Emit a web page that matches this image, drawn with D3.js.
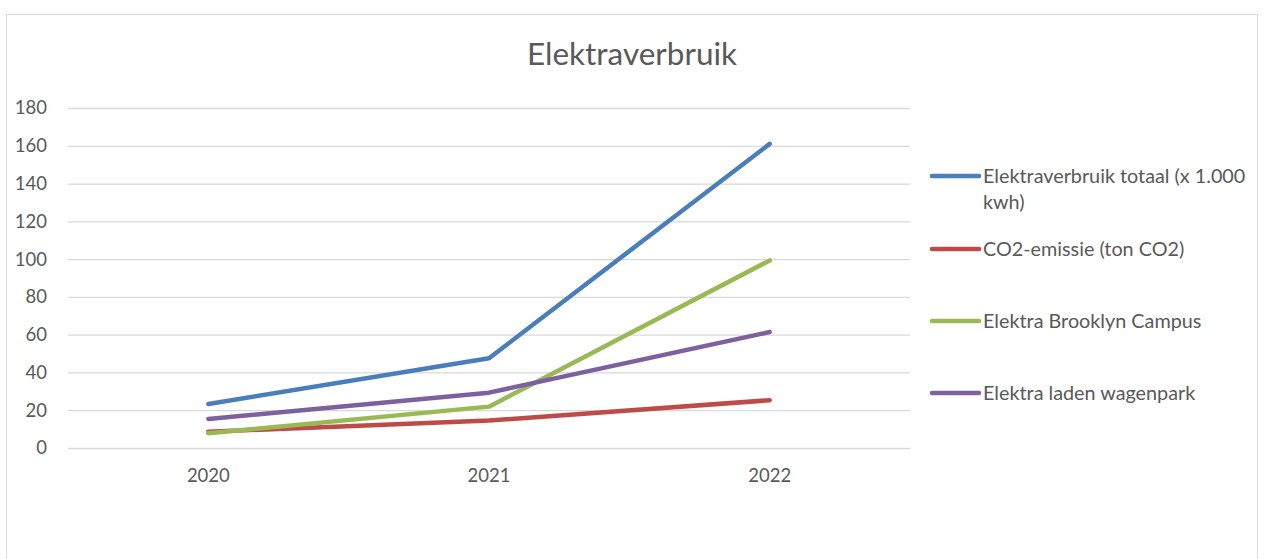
<!DOCTYPE html>
<html>
<head>
<meta charset="utf-8">
<script src="https://cdn.jsdelivr.net/npm/d3@7"></script>
<style>
  body { margin: 0; background: #fff; }
  svg { font-family: Lato, "Open Sans", sans-serif; }
</style>
</head>
<body>
<svg id="chart" width="1268" height="559"></svg>
<script>
var years = ["2020", "2021", "2022"];
var yTicks = [0, 20, 40, 60, 80, 100, 120, 140, 160, 180];

var totaal = [23.3, 47.5, 161];
var co2 = [8.6, 14.5, 25.3];
var brooklyn = [7.8, 21.9, 99.3];
var wagenpark = [15.4, 29.3, 61.4];

var series = [
    { name: ["Elektraverbruik totaal (x 1.000", "kwh)"], values: totaal, color: "#4a7ebb" },
    { name: ["CO2-emissie (ton CO2)"], values: co2, color: "#be4b48" },
    { name: ["Elektra Brooklyn Campus"], values: brooklyn, color: "#98b954" },
    { name: ["Elektra laden wagenpark"], values: wagenpark, color: "#7d60a0" }
];

var svg = d3.select("#chart");

// chart frame
svg.append("rect")
    .attr("x", 6.5).attr("y", 14.5)
    .attr("width", 1251).attr("height", 560)
    .attr("fill", "#fff")
    .attr("stroke", "#d9d9d9");

svg.append("text")
    .attr("x", 632).attr("y", 65)
    .attr("text-anchor", "middle")
    .attr("font-size", 31.5)
    .attr("fill", "#595959")
    .text("Elektraverbruik");

var x = d3.scaleBand().domain(years).range([68, 910]);
var y = d3.scaleLinear().domain([0, 180]).range([448, 108]);

// gridlines
svg.append("g")
    .selectAll("line")
    .data(yTicks)
    .enter().append("line")
    .attr("x1", 68).attr("x2", 910)
    .attr("y1", d => y(d) + 0.5).attr("y2", d => y(d) + 0.5)
    .attr("stroke", "#d9d9d9")
    .attr("stroke-width", 1.3);

var yAxis = svg.append("g")
    .attr("transform", "translate(47,0)")
    .call(d3.axisLeft(y).tickValues(yTicks).tickSize(0).tickPadding(0));
yAxis.select(".domain").remove();
yAxis.selectAll("text")
    .attr("font-size", 18.5)
    .attr("font-family", "Lato, sans-serif")
    .attr("fill", "#595959");

var xAxis = svg.append("g")
    .attr("transform", "translate(0,448)")
    .call(d3.axisBottom(x).tickSize(0).tickPadding(21));
xAxis.select(".domain").remove();
xAxis.selectAll("text")
    .attr("font-size", 18.5)
    .attr("font-family", "Lato, sans-serif")
    .attr("fill", "#595959");

var line = d3.line()
    .x((d, i) => x(years[i]) + x.bandwidth() / 2)
    .y(d => y(d));

svg.append("g")
    .selectAll("path")
    .data(series)
    .enter().append("path")
    .attr("d", d => line(d.values))
    .attr("fill", "none")
    .attr("stroke", d => d.color)
    .attr("stroke-width", 4.5)
    .attr("stroke-linecap", "round")
    .attr("stroke-linejoin", "round");

// legend
var legendY = [176, 249, 321, 393];
var legend = svg.append("g")
    .selectAll("g")
    .data(series)
    .enter().append("g")
    .attr("transform", (d, i) => "translate(0," + legendY[i] + ")");

legend.append("line")
    .attr("x1", 932).attr("x2", 979)
    .attr("stroke", d => d.color)
    .attr("stroke-width", 4.5)
    .attr("stroke-linecap", "round");

legend.append("text")
    .attr("x", 983)
    .attr("font-size", 19.8)
    .attr("fill", "#595959")
    .selectAll("tspan")
    .data(d => d.name)
    .enter().append("tspan")
    .attr("x", 983)
    .attr("y", (d, i) => i * 26)
    .attr("dy", "0.35em")
    .text(d => d);
</script>
</body>
</html>
